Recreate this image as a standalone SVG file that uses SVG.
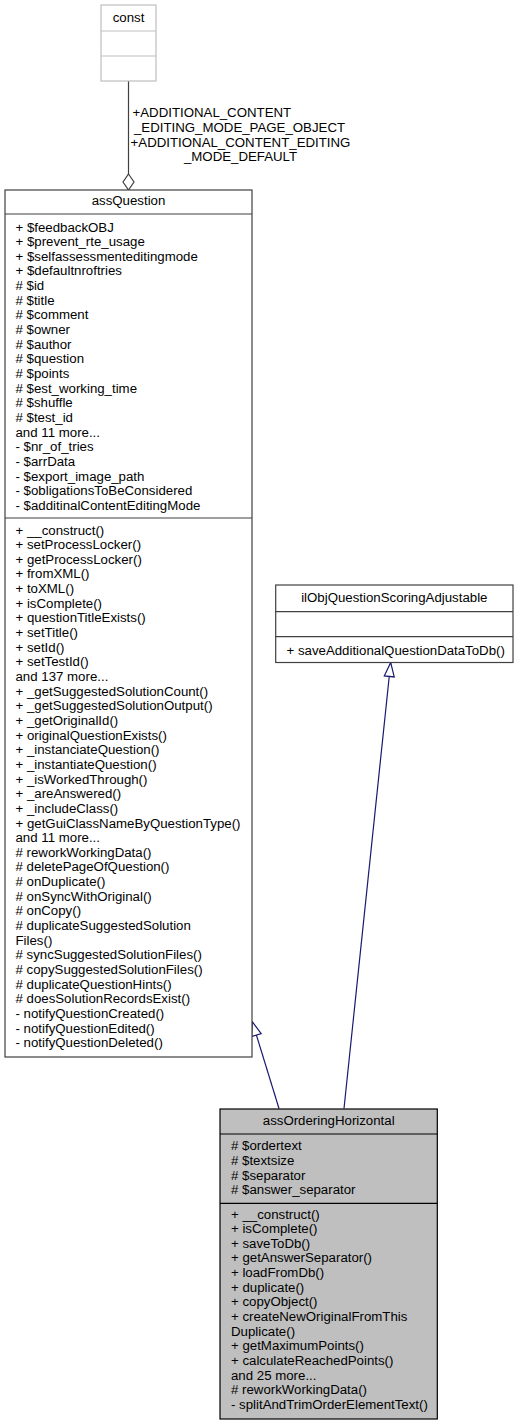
<svg xmlns="http://www.w3.org/2000/svg" width="520" height="1425" viewBox="0 0 520 1425">
<style>
text{font-family:"Liberation Sans",Arial,sans-serif;font-size:13.25px;fill:#000}
.c{text-anchor:middle}
.box{fill:#fff;stroke:#404040;stroke-width:1.2}
.cur{fill:#bfbfbf;stroke:#000;stroke-width:1.2}
.ghost{fill:#fff;stroke:#bfbfbf;stroke-width:1.2}
.sep{stroke:#404040;stroke-width:1.2}
.sepk{stroke:#000;stroke-width:1.2}
.seph{stroke:#bfbfbf;stroke-width:1.2}
.inh{fill:none;stroke:#191970;stroke-width:1.2;marker-end:url(#tri)}
.comp{fill:none;stroke:#404040;stroke-width:1.2;marker-end:url(#dia)}
</style>
<defs>
<marker id="tri" viewBox="-1 -1 16 12" refX="14" refY="5" markerWidth="16" markerHeight="12" markerUnits="userSpaceOnUse" orient="auto">
<path d="M0,0 L14,5 L0,10 Z" fill="#fff" stroke="#191970" stroke-width="1.2"/>
</marker>
<marker id="dia" viewBox="-1 -1 18 13" refX="16" refY="5.5" markerWidth="18" markerHeight="13" markerUnits="userSpaceOnUse" orient="auto">
<path d="M0,5.5 L8,0 L16,5.5 L8,11 Z" fill="#fff" stroke="#404040" stroke-width="1.2"/>
</marker>
</defs>

<g id="edges">
<path class="comp" d="M128.5,81 L128.5,190"/>
<text x="132.5" y="117.3">+ADDITIONAL_CONTENT</text>
<text x="134" y="131.8">_EDITING_MODE_PAGE_OBJECT</text>
<text class="c" x="240.5" y="146.5">+ADDITIONAL_CONTENT_EDITING</text>
<text class="c" x="240.5" y="161">_MODE_DEFAULT</text>
<path class="inh" d="M279,1108.5 L252.3,1021.7"/>
<path class="inh" d="M344,1108.5 L390.7,662.5"/>
</g>

<g id="node-const">
<rect class="ghost" x="101" y="5" width="55" height="76"/>
<line class="seph" x1="101" y1="31" x2="156" y2="31"/>
<line class="seph" x1="101" y1="56" x2="156" y2="56"/>
<text class="c" x="128.5" y="21.5">const</text>
</g>

<g id="node-assQuestion">
<rect class="box" x="5" y="190" width="247" height="867"/>
<line class="sep" x1="5" y1="214" x2="252" y2="214"/>
<line class="sep" x1="5" y1="518" x2="252" y2="518"/>
<text class="c" x="128.5" y="204.5">assQuestion</text>
<text x="15.5" y="231.5">+ $feedbackOBJ</text>
<text x="15.5" y="246.15">+ $prevent_rte_usage</text>
<text x="15.5" y="260.8">+ $selfassessmenteditingmode</text>
<text x="15.5" y="275.45">+ $defaultnroftries</text>
<text x="15.5" y="290.1"># $id</text>
<text x="15.5" y="304.75"># $title</text>
<text x="15.5" y="319.4"># $comment</text>
<text x="15.5" y="334.05"># $owner</text>
<text x="15.5" y="348.7"># $author</text>
<text x="15.5" y="363.35"># $question</text>
<text x="15.5" y="378"># $points</text>
<text x="15.5" y="392.65"># $est_working_time</text>
<text x="15.5" y="407.3"># $shuffle</text>
<text x="15.5" y="421.95"># $test_id</text>
<text x="15.5" y="436.6">and 11 more...</text>
<text x="15.5" y="451.25">- $nr_of_tries</text>
<text x="15.5" y="465.9">- $arrData</text>
<text x="15.5" y="480.55">- $export_image_path</text>
<text x="15.5" y="495.2">- $obligationsToBeConsidered</text>
<text x="15.5" y="509.85">- $additinalContentEditingMode</text>
<text x="15.5" y="534.5">+ __construct()</text>
<text x="15.5" y="549.15">+ setProcessLocker()</text>
<text x="15.5" y="563.8">+ getProcessLocker()</text>
<text x="15.5" y="578.45">+ fromXML()</text>
<text x="15.5" y="593.1">+ toXML()</text>
<text x="15.5" y="607.75">+ isComplete()</text>
<text x="15.5" y="622.4">+ questionTitleExists()</text>
<text x="15.5" y="637.05">+ setTitle()</text>
<text x="15.5" y="651.7">+ setId()</text>
<text x="15.5" y="666.35">+ setTestId()</text>
<text x="15.5" y="681">and 137 more...</text>
<text x="15.5" y="695.65">+ _getSuggestedSolutionCount()</text>
<text x="15.5" y="710.3">+ _getSuggestedSolutionOutput()</text>
<text x="15.5" y="724.95">+ _getOriginalId()</text>
<text x="15.5" y="739.6">+ originalQuestionExists()</text>
<text x="15.5" y="754.25">+ _instanciateQuestion()</text>
<text x="15.5" y="768.9">+ _instantiateQuestion()</text>
<text x="15.5" y="783.55">+ _isWorkedThrough()</text>
<text x="15.5" y="798.2">+ _areAnswered()</text>
<text x="15.5" y="812.85">+ _includeClass()</text>
<text x="15.5" y="827.5">+ getGuiClassNameByQuestionType()</text>
<text x="15.5" y="842.15">and 11 more...</text>
<text x="15.5" y="856.8"># reworkWorkingData()</text>
<text x="15.5" y="871.45"># deletePageOfQuestion()</text>
<text x="15.5" y="886.1"># onDuplicate()</text>
<text x="15.5" y="900.75"># onSyncWithOriginal()</text>
<text x="15.5" y="915.4"># onCopy()</text>
<text x="15.5" y="930.05"># duplicateSuggestedSolution</text>
<text x="15.5" y="944.7">Files()</text>
<text x="15.5" y="959.35"># syncSuggestedSolutionFiles()</text>
<text x="15.5" y="974"># copySuggestedSolutionFiles()</text>
<text x="15.5" y="988.65"># duplicateQuestionHints()</text>
<text x="15.5" y="1003.3"># doesSolutionRecordsExist()</text>
<text x="15.5" y="1017.95">- notifyQuestionCreated()</text>
<text x="15.5" y="1032.6">- notifyQuestionEdited()</text>
<text x="15.5" y="1047.25">- notifyQuestionDeleted()</text>
</g>

<g id="node-ilObjQuestionScoringAdjustable">
<rect class="box" x="275.7" y="585" width="237.3" height="77.5"/>
<line class="sep" x1="275.7" y1="611.7" x2="513" y2="611.7"/>
<line class="sep" x1="275.7" y1="636.7" x2="513" y2="636.7"/>
<text class="c" x="394.3" y="601.5">ilObjQuestionScoringAdjustable</text>
<text x="286.5" y="654.5">+ saveAdditionalQuestionDataToDb()</text>
</g>

<g id="node-assOrderingHorizontal">
<rect class="cur" x="220" y="1109" width="217.3" height="310"/>
<line class="sepk" x1="220" y1="1134" x2="437.3" y2="1134"/>
<line class="sepk" x1="220" y1="1203.3" x2="437.3" y2="1203.3"/>
<text class="c" x="328.7" y="1125.2">assOrderingHorizontal</text>
<text x="231" y="1150.2"># $ordertext</text>
<text x="231" y="1164.85"># $textsize</text>
<text x="231" y="1179.5"># $separator</text>
<text x="231" y="1194.15"># $answer_separator</text>
<text x="231" y="1218.5">+ __construct()</text>
<text x="231" y="1233.15">+ isComplete()</text>
<text x="231" y="1247.8">+ saveToDb()</text>
<text x="231" y="1262.45">+ getAnswerSeparator()</text>
<text x="231" y="1277.1">+ loadFromDb()</text>
<text x="231" y="1291.75">+ duplicate()</text>
<text x="231" y="1306.4">+ copyObject()</text>
<text x="231" y="1321.05">+ createNewOriginalFromThis</text>
<text x="231" y="1335.7">Duplicate()</text>
<text x="231" y="1350.35">+ getMaximumPoints()</text>
<text x="231" y="1365">+ calculateReachedPoints()</text>
<text x="231" y="1379.65">and 25 more...</text>
<text x="231" y="1394.3"># reworkWorkingData()</text>
<text x="231" y="1408.95">- splitAndTrimOrderElementText()</text>
</g>
</svg>
